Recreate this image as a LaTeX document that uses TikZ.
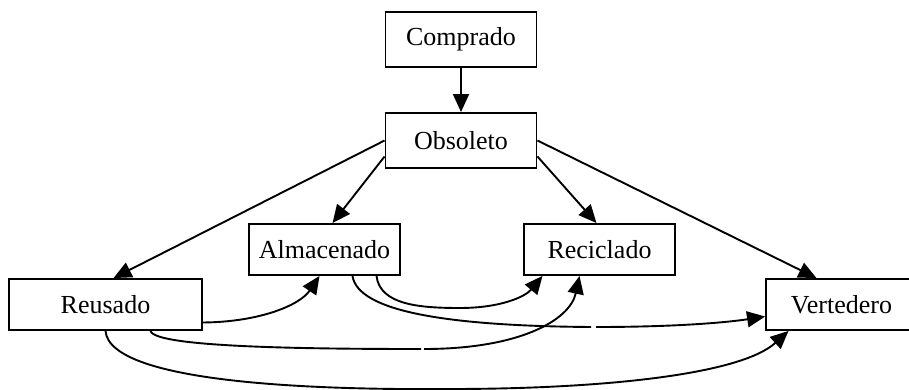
\documentclass[tikz,border=0pt]{standalone}
\usepackage{fontspec}
\setmainfont{Liberation Serif}
\usepackage{tikz}
\usetikzlibrary{arrows, arrows.meta, positioning}
\tikzset{>={Triangle[length=18pt, width=16pt]}}

\begin{document}
\begin{tikzpicture}[x=1pt, y=-1pt, line width=1.9pt,
	box/.style={draw, line width=1.9pt, inner sep=0pt, minimum width=151pt, minimum height=51pt, font=\fontsize{26}{30}\selectfont}]

			\useasboundingbox (0,0) rectangle (909,390);

			\node[box, minimum height=55pt] (Com) at (461,39.5) {Comprado};
			\node[box, minimum height=55pt] (Obs) at (461,140.5) {Obsoleto};
			\node[box] (Alm) at (324.5,249.5) {Almacenado};
			\node[box] (Rec) at (599.5,249.5) {Reciclado};
			\node[box, minimum width=193pt] (Reu) at (105.5,304.5) {Reusado};
			\node[box] (Ver) at (841.5,304.5) {Vertedero};

			\coordinate (G1) at (421,349);  \coordinate (G2) at (424,349);
			\coordinate (G3) at (591,327);  \coordinate (G4) at (596,327);

			\draw [->] (Com)--(Obs);
			\draw [->] (Obs.west)--([xshift=8pt]Reu.north);
			\draw [->] ([yshift=-16pt]Obs.west)--([xshift=8pt]Alm.north);
			\draw [->] ([yshift=-16pt]Obs.east)--([xshift=-3pt]Rec.north);
			\draw [->] (Obs.east)--([xshift=-25pt]Ver.north);

			\draw [->] ([yshift=-18pt]Reu.east) .. controls (260,322) and (300,305) .. ([xshift=-5pt]Alm.south);
			\draw ([xshift=45pt]Reu.south) .. controls (155,347) and (300,349) .. (G1);
			\draw [->] (G2) .. controls (520,349) and (570,320) .. ([xshift=-20pt]Rec.south);
			\draw [->] (Reu.south) .. controls (110,385) and (330,390) .. (450,389)
				.. controls (600,389) and (740,375) .. ([xshift=-53pt]Ver.south);
			\draw ([xshift=28pt]Alm.south) .. controls (358,312) and (450,326) .. (G3);
			\draw [->] (G4) .. controls (680,327) and (730,322) .. ([yshift=-12pt]Ver.west);
			\draw [->] ([xshift=52pt]Alm.south) .. controls (380,305) and (420,308) .. (460,308)
				.. controls (500,308) and (525,297) .. ([xshift=-57pt]Rec.south);

			\end{tikzpicture}
\end{document}
